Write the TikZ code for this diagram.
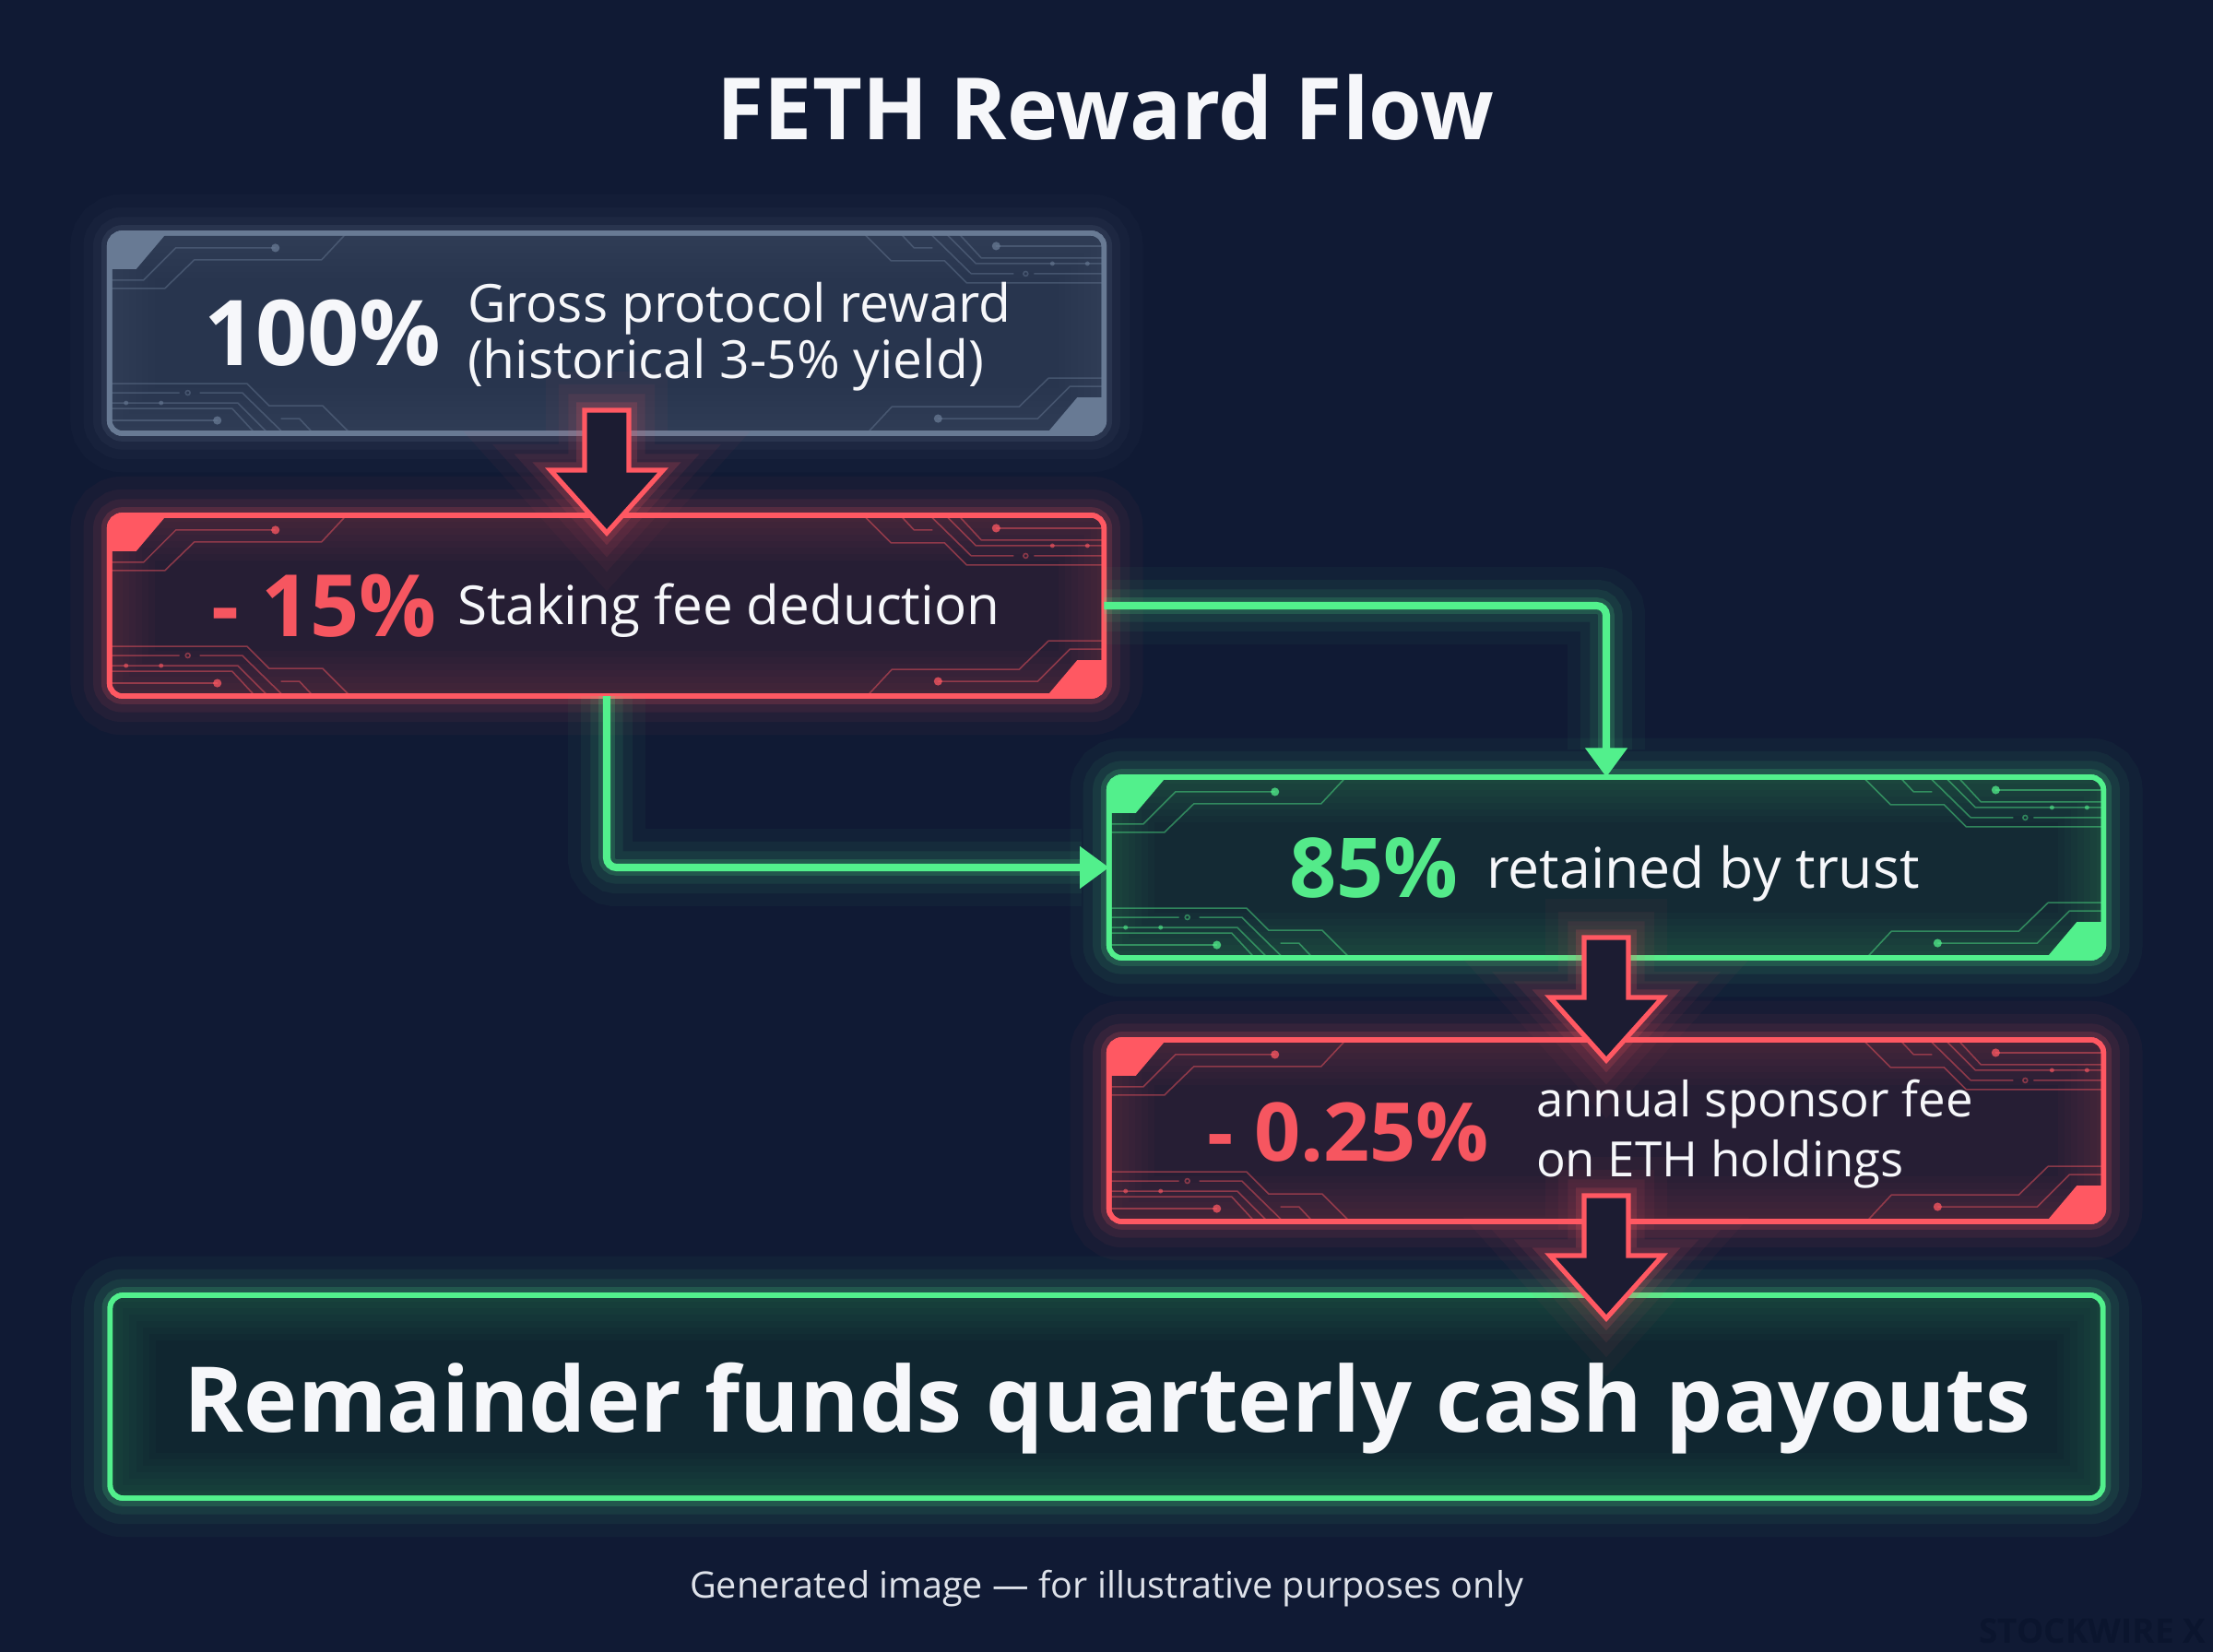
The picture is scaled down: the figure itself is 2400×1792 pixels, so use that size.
\documentclass[tikz,border=0pt]{standalone}
\usepackage{fontspec}
\setmainfont{Open Sans}
\usetikzlibrary{arrows.meta,calc}
\definecolor{bg}{RGB}{16,26,52}
\definecolor{slate}{RGB}{104,122,148}
\definecolor{slatefill}{RGB}{40,53,78}
\definecolor{neonred}{RGB}{255,88,98}
\definecolor{redfill}{RGB}{38,30,52}
\definecolor{redtext}{RGB}{246,86,96}
\definecolor{neongreen}{RGB}{82,240,140}
\definecolor{greenfill}{RGB}{20,42,52}
\definecolor{greentext}{RGB}{84,234,138}
\definecolor{bottomfill}{RGB}{16,38,48}
\definecolor{txt}{RGB}{246,247,250}
\definecolor{foot}{RGB}{222,226,234}
\definecolor{wmark}{RGB}{11,21,46}
\definecolor{arrowfill}{RGB}{28,28,50}

\newcommand\cktA[1]{%
  \fill[#1] (0,0) -- (62,0) -- (29,39) -- (0,39) -- cycle;
  \draw[trace=#1] (180,16) -- (72,16) -- (37,51) -- (0,51);
  \fill[#1, opacity=.75] (180,16) circle[radius=1.3pt];
  \draw[trace=#1] (257,0) -- (230,29) -- (92,29) -- (60,60) -- (0,60);
}
\newcommand\cktB[1]{%
  \draw[trace=#1] (117,14) -- (0,14);
  \fill[#1, opacity=.75] (117,14) circle[radius=1.3pt];
  \draw[trace=#1] (261,0) -- (231,30) -- (173,30) -- (149,54) -- (0,54);
  \draw[trace=#1] (221,0) -- (206,16) -- (186,16);
  \draw[trace=#1] (189,0) -- (144,44) -- (98,44) (76,44) -- (0,44);
  \draw[trace=#1] (85,44) circle[radius=0.7pt];
  \draw[trace=#1] (172,0) -- (139,33) -- (0,33);
  \fill[#1, opacity=.6] (56,33) circle[radius=0.7pt] (18,33) circle[radius=0.7pt];
  \draw[trace=#1] (158,0) -- (133,27) -- (0,27);
}
\newcommand\innerglow[2]{%
  \foreach \w in {4,8,12,16,20,24,28}
    \draw[#2, draw opacity=.022, line width=\w pt] (#1.north west) rectangle (#1.south east);
}
\newcommand\deco[2]{%
  \begin{scope}
    \clip[rounded corners=4pt] (#1.north west) rectangle (#1.south east);
    \innerglow{#1}{#2}
    \begin{scope}[shift={(#1.north west)}]\cktA{#2}\end{scope}
    \begin{scope}[shift={(#1.south east)}, xscale=-1, yscale=-1]\cktA{#2}\end{scope}
    \begin{scope}[shift={(#1.north east)}, xscale=-1]\cktB{#2}\end{scope}
    \begin{scope}[shift={(#1.south west)}, yscale=-1]\cktB{#2}\end{scope}
  \end{scope}
  \draw[#2, line width=1.6pt, rounded corners=4pt] (#1.north west) rectangle (#1.south east);
}
\newcommand\hollow[1]{%
  \draw[hollowarr] (#1) ++(-24,0) -- ++(48,0) -- ++(0,65) -- ++(37,0) -- ++(-61,68)
    -- ++(-61,-68) -- ++(37,0) -- cycle;
}

\begin{document}
\begin{tikzpicture}[x=0.01cm, y=-0.01cm,
  trace/.style={draw=#1, draw opacity=.45, line width=0.45pt},
  box/.style={rounded corners=4pt, line width=1.6pt, inner sep=0pt, outer sep=0pt, draw=#1},
  glow/.style={preaction={draw=#1, draw opacity=.035, line width=24pt},
               preaction={draw=#1, draw opacity=.05, line width=16pt},
               preaction={draw=#1, draw opacity=.08, line width=10pt},
               preaction={draw=#1, draw opacity=.16, line width=5pt}},
  conn/.style={draw=neongreen, line width=2.3pt, rounded corners=3pt,
               -{Triangle[length=9pt,width=12.5pt]}, glow=neongreen},
  hollowarr/.style={draw=neonred, fill=arrowfill, line width=1.5pt, line join=miter,
               glow=neonred},
  t/.style={inner sep=0pt, outer sep=0pt, text=txt},
]
\fill[bg] (0,0) rectangle (2400,1792);
\useasboundingbox (0,0) rectangle (2400,1792);

% title
\node[t, anchor=base, font=\fontsize{26.5}{30}\selectfont\bfseries] (title) at (1199,152) {FETH Reward Flow};

% boxes
\node[box=slate, fill=slatefill, glow=slate, minimum width=10.78cm, minimum height=2.17cm] (b1) at (658,361.5) {};
\node[box=neonred, fill=redfill, glow=neonred, minimum width=10.78cm, minimum height=1.96cm] (b2) at (658,657) {};
\node[box=neongreen, fill=greenfill, glow=neongreen, minimum width=10.78cm, minimum height=1.96cm] (b3) at (1742,941) {};
\node[box=neonred, fill=redfill, glow=neonred, minimum width=10.78cm, minimum height=1.97cm] (b4) at (1742,1226.5) {};
\node[box=neongreen, fill=bottomfill, glow=neongreen, minimum width=21.6cm, minimum height=2.2cm] (b5) at (1200,1515) {};

\deco{b1}{slate}
\deco{b2}{neonred}
\deco{b3}{neongreen}
\deco{b4}{neonred}
\begin{scope}
  \clip[rounded corners=4pt] (b5.north west) rectangle (b5.south east);
  \innerglow{b5}{neongreen}
\end{scope}
\draw[neongreen, line width=1.6pt, rounded corners=4pt] (b5.north west) rectangle (b5.south east);

% green connectors
\draw[conn] (b2.east) -| (b3.north);
\draw[conn] (b2.south) |- (b3.west);

% hollow red arrows
\hollow{$(b1.south)+(0,-25)$}
\hollow{$(b3.south)+(0,-22)$}
\hollow{$(b4.south)+(0,-28)$}

% texts
\node[t, anchor=base west, font=\fontsize{28}{32}\selectfont\bfseries] (p100) at (221,397) {100\%};
\node[t, anchor=base west, font=\fontsize{16.2}{19}\selectfont] (g1) at (507,350) {Gross protocol reward};
\node[t, anchor=base west, font=\fontsize{16.2}{19}\selectfont] (g2) at (507,411) {(historical 3-5\% yield)};

\node[t, anchor=base west, text=redtext, font=\fontsize{26.5}{30}\selectfont\bfseries] (p15) at (229,691) {- 15\%};
\node[t, anchor=base west, font=\fontsize{16.6}{19}\selectfont] (s1) at (496,678) {Staking fee deduction};

\node[t, anchor=base west, text=greentext, font=\fontsize{25.5}{30}\selectfont\bfseries] (p85) at (1398,974) {85\%};
\node[t, anchor=base west, font=\fontsize{17.3}{20}\selectfont] (r1) at (1612,964) {retained by trust};

\node[t, anchor=base west, text=redtext, font=\fontsize{25}{30}\selectfont\bfseries] (p025) at (1309,1259) {- 0.25\%};
\node[t, anchor=base west, font=\fontsize{15}{18}\selectfont] (a1) at (1666,1211) {annual sponsor fee};
\node[t, anchor=base west, font=\fontsize{15}{18}\selectfont] (a2) at (1666,1276) {on ETH holdings};

\node[t, anchor=base, font=\fontsize{28}{32}\selectfont\bfseries] (rem) at (1201,1553) {Remainder funds quarterly cash payouts};

\node[t, anchor=base, text=foot, font=\fontsize{11.25}{13}\selectfont] (foot) at (1200,1733) {Generated image — for illustrative purposes only};
\node[t, anchor=base east, text=wmark, font=\fontsize{10.5}{13}\selectfont\bfseries] (wm) at (2392,1782) {STOCKWIRE X};
\end{tikzpicture}
\end{document}
